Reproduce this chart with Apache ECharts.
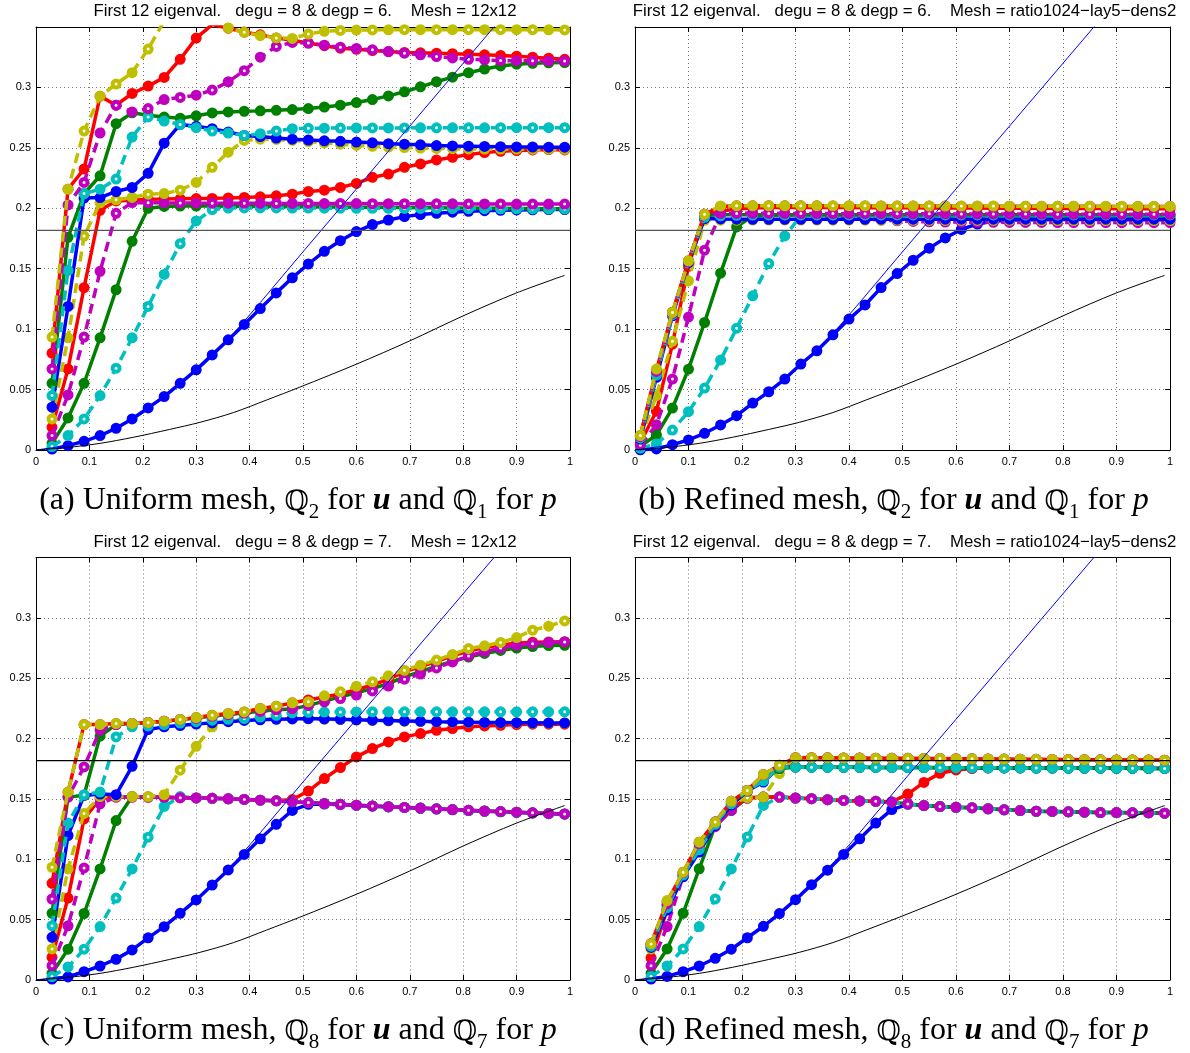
<!DOCTYPE html>
<html><head><meta charset="utf-8">
<script src="https://cdn.jsdelivr.net/npm/echarts@6/dist/echarts.min.js"></script>
<style>html,body{margin:0;padding:0;background:#fff}#c{width:1190px;height:1053px}</style>
</head><body><div id="c"></div>
<script>
// ---------- x samples ----------
const X_UNI = [0.03,0.06,0.09,0.12,0.15,0.18,0.21,0.24,0.27,0.30,0.33,0.36,0.39,0.42,0.45,0.48,0.51,0.54,0.57,0.60,0.63,0.66,0.69,0.72,0.75,0.78,0.81,0.84,0.87,0.90,0.93,0.96,0.99];
const X_REF = [0.01,0.04,0.07,0.10,0.13,0.16,0.19,0.22,0.25,0.28,0.31,0.34,0.37,0.40,0.43,0.46,0.49,0.52,0.55,0.58,0.61,0.64,0.67,0.70,0.73,0.76,0.79,0.82,0.85,0.88,0.91,0.94,0.97,1.00];

// ---------- panel (a) ----------
const A_B1 = [0.0008,0.0036,0.0072,0.0119,0.018,0.0257,0.0348,0.0442,0.0552,0.0663,0.0787,0.0912,0.1039,0.117,0.130,0.1425,0.1539,0.1644,0.1732,0.1807,0.1865,0.1903,0.1931,0.1948,0.1959,0.1968,0.1975,0.198,0.1983,0.1986,0.1988,0.1989,0.199];
const A_G1 = [0.0055,0.0265,0.0552,0.0928,0.1326,0.1727,0.2,0.2015,0.2018,0.2018,0.2018,0.2017,0.2016,0.2015,0.2014,0.2013,0.2012,0.2011,0.201,0.2009,0.2008,0.2007,0.2006,0.2005,0.2004,0.2003,0.2002,0.2001,0.2,0.1999,0.1998,0.1997,0.1996];
const A_R1 = [0.0188,0.0671,0.1343,0.1983,0.2061,0.2067,0.2075,0.2076,0.2078,0.208,0.2082,0.2085,0.209,0.2095,0.2103,0.2117,0.2139,0.215,0.2172,0.2206,0.2256,0.2283,0.2339,0.2367,0.24,0.2422,0.2444,0.2461,0.2472,0.2478,0.2483,0.2486,0.2483];
const A_C1 = [0.0028,0.0119,0.0257,0.045,0.0677,0.0928,0.1188,0.1453,0.1707,0.1895,0.199,0.2002,0.2003,0.2003,0.2003,0.2002,0.2002,0.2001,0.2001,0.2,0.2,0.2,0.1999,0.1999,0.1998,0.1998,0.1997,0.1997,0.1996,0.1996,0.1995,0.1995,0.1995];
const A_M1 = [0.0119,0.0456,0.0934,0.1478,0.1958,0.2047,0.2046,0.2045,0.2044,0.2043,0.2042,0.2042,0.2041,0.2041,0.204,0.204,0.204,0.2039,0.2039,0.2039,0.2038,0.2038,0.2038,0.2037,0.2037,0.2037,0.2036,0.2036,0.2036,0.2035,0.2035,0.2035,0.2035];
const A_Y1 = [0.0257,0.0928,0.177,0.2045,0.207,0.209,0.2117,0.2122,0.215,0.2214,0.2339,0.2464,0.2561,0.2572,0.257,0.2562,0.2552,0.2541,0.253,0.252,0.2513,0.2507,0.2502,0.2498,0.2495,0.2493,0.2491,0.249,0.249,0.249,0.2489,0.2489,0.2488];
const A_B2 = [0.0354,0.1188,0.2085,0.2089,0.2139,0.2172,0.2289,0.2539,0.2694,0.2678,0.2658,0.2631,0.2603,0.2594,0.2581,0.2572,0.2565,0.2558,0.2554,0.2548,0.2542,0.2535,0.253,0.2525,0.2519,0.2516,0.2514,0.2512,0.251,0.2508,0.2507,0.2506,0.2506];
const A_C2 = [0.045,0.1486,0.2122,0.2158,0.2242,0.2589,0.2756,0.2722,0.2694,0.2667,0.2639,0.2622,0.2603,0.2617,0.2639,0.2658,0.2662,0.2663,0.2664,0.2665,0.2665,0.2665,0.2665,0.2666,0.2666,0.2666,0.2666,0.2666,0.2667,0.2667,0.2667,0.2667,0.2667];
const A_G2 = [0.0552,0.176,0.212,0.2269,0.27,0.279,0.277,0.2755,0.2745,0.2765,0.2789,0.2797,0.2803,0.2806,0.2811,0.2817,0.2825,0.2838,0.2853,0.2875,0.29,0.293,0.2964,0.3005,0.3047,0.3085,0.3122,0.3152,0.3178,0.3192,0.32,0.3204,0.3206];
const A_R2 = [0.0801,0.2158,0.2325,0.2928,0.2853,0.295,0.3011,0.3083,0.3233,0.3408,0.352,0.349,0.3458,0.3435,0.341,0.339,0.3367,0.3345,0.3325,0.3315,0.3305,0.3297,0.329,0.3286,0.3283,0.3279,0.3275,0.327,0.3265,0.3258,0.325,0.3242,0.3233];
const A_M2 = [0.0671,0.2028,0.2214,0.2622,0.2853,0.2797,0.2825,0.29,0.2917,0.2936,0.2978,0.3047,0.3139,0.325,0.3339,0.3372,0.3367,0.335,0.3333,0.3322,0.3311,0.3297,0.3283,0.327,0.3256,0.3244,0.3233,0.3228,0.3222,0.3221,0.322,0.3219,0.3218];
const A_Y2 = [0.0934,0.2158,0.2639,0.2928,0.3028,0.3122,0.3317,0.355,0.365,0.368,0.362,0.3492,0.3456,0.3428,0.341,0.3405,0.3442,0.3464,0.3472,0.3475,0.3476,0.3477,0.3478,0.3478,0.3478,0.3478,0.3478,0.3478,0.3478,0.3478,0.3478,0.3477,0.3476];

// ---------- panel (b) ----------
const B_B1 = [0.0002,0.0009,0.0044,0.0083,0.0138,0.0207,0.0284,0.0388,0.0482,0.0587,0.0711,0.0821,0.0953,0.1083,0.12,0.1344,0.146,0.157,0.167,0.1755,0.1825,0.187,0.1893,0.1902,0.1905,0.1906,0.1907,0.1907,0.1907,0.1907,0.1906,0.1906,0.1905,0.1905];
const B_G1 = [0.003,0.0124,0.0347,0.0669,0.1055,0.1463,0.1846,0.1935,0.1942,0.1944,0.1945,0.1945,0.1945,0.1944,0.1944,0.1943,0.1943,0.1942,0.1942,0.1941,0.1941,0.194,0.194,0.1939,0.1939,0.1938,0.1938,0.1937,0.1937,0.1937,0.1936,0.1936,0.1936,0.1935];
const B_R1 = [0.006,0.032,0.0876,0.152,0.1945,0.1975,0.1995,0.2003,0.2006,0.2007,0.2007,0.2007,0.2006,0.2006,0.2005,0.2005,0.2004,0.2004,0.2003,0.2003,0.2002,0.2002,0.2001,0.2001,0.2,0.2,0.1999,0.1999,0.1998,0.1998,0.1997,0.1997,0.1996,0.1996];
const B_C1 = [0.0015,0.005,0.0165,0.0317,0.0512,0.0744,0.1008,0.1276,0.1543,0.1771,0.1937,0.1941,0.1941,0.194,0.194,0.1939,0.1939,0.1938,0.1938,0.1937,0.1937,0.1936,0.1936,0.1935,0.1935,0.1934,0.1934,0.1933,0.1933,0.1932,0.1932,0.1931,0.1931,0.193];
const B_M1 = [0.004,0.0209,0.0587,0.110,0.1653,0.1956,0.1958,0.1958,0.1957,0.1955,0.195,0.1942,0.1932,0.1922,0.1912,0.1903,0.1896,0.1891,0.1888,0.1886,0.1885,0.1884,0.1884,0.1883,0.1883,0.1883,0.1882,0.1882,0.1882,0.1882,0.1881,0.1881,0.1881,0.1881];
const B_Y1 = [0.009,0.045,0.09,0.14,0.19,0.1902,0.1902,0.1903,0.1903,0.1903,0.1903,0.1903,0.1902,0.1902,0.1902,0.1902,0.1901,0.1901,0.1901,0.1901,0.19,0.19,0.19,0.19,0.19,0.1899,0.1899,0.1899,0.1899,0.1899,0.1898,0.1898,0.1898,0.1898];
const B_B2 = [0.009,0.06,0.111,0.155,0.1915,0.1912,0.191,0.1909,0.1909,0.1909,0.1909,0.1909,0.1909,0.1909,0.1909,0.191,0.191,0.191,0.191,0.191,0.191,0.191,0.191,0.191,0.191,0.191,0.191,0.191,0.191,0.191,0.191,0.191,0.191,0.191];
const B_C2 = [0.01,0.062,0.112,0.156,0.1925,0.1938,0.1942,0.1944,0.1945,0.1945,0.1945,0.1945,0.1945,0.1945,0.1945,0.1945,0.1945,0.1945,0.1945,0.1945,0.1945,0.1945,0.1945,0.1945,0.1945,0.1945,0.1945,0.1945,0.1945,0.1945,0.1945,0.1945,0.1945,0.1945];
const B_G2 = [0.011,0.064,0.113,0.156,0.194,0.1946,0.1946,0.1946,0.1946,0.1946,0.1946,0.1946,0.1946,0.1946,0.1946,0.1946,0.1946,0.1946,0.1946,0.1946,0.1946,0.1946,0.1946,0.1946,0.1946,0.1946,0.1946,0.1946,0.1946,0.1946,0.1946,0.1946,0.1946,0.1946];
const B_R2 = [0.012,0.066,0.114,0.1565,0.195,0.2015,0.202,0.202,0.202,0.202,0.202,0.202,0.2019,0.2019,0.2019,0.2019,0.2018,0.2018,0.2018,0.2018,0.2017,0.2017,0.2017,0.2017,0.2016,0.2016,0.2016,0.2016,0.2016,0.2015,0.2015,0.2015,0.2015,0.2015];
const B_M2 = [0.011,0.065,0.113,0.156,0.195,0.1956,0.1957,0.1957,0.1957,0.1957,0.1956,0.1956,0.1956,0.1955,0.1955,0.1955,0.1955,0.1954,0.1954,0.1954,0.1953,0.1953,0.1953,0.1952,0.1952,0.1952,0.1951,0.1951,0.1951,0.195,0.195,0.195,0.195,0.195];
const B_Y2 = [0.012,0.067,0.1138,0.1565,0.195,0.2019,0.202,0.2021,0.2021,0.2021,0.2021,0.202,0.202,0.202,0.202,0.2019,0.2019,0.2019,0.2019,0.2018,0.2018,0.2018,0.2018,0.2017,0.2017,0.2017,0.2017,0.2016,0.2016,0.2016,0.2016,0.2015,0.2015,0.2015];

// ---------- panel (c) ----------
const C_B1 = [0.0008,0.0025,0.0069,0.0116,0.0172,0.0249,0.0349,0.0442,0.0552,0.0663,0.0787,0.0912,0.104,0.117,0.129,0.1405,0.1455,0.1458,0.1452,0.1446,0.144,0.1434,0.1428,0.1422,0.1416,0.141,0.1404,0.1398,0.1393,0.1388,0.1383,0.1378,0.1374];
const C_G1 = [0.0055,0.0255,0.0551,0.092,0.1321,0.152,0.1515,0.1513,0.151,0.1508,0.1505,0.1501,0.1496,0.149,0.1484,0.1477,0.147,0.1462,0.1455,0.1448,0.1442,0.1436,0.143,0.1424,0.1418,0.1412,0.1406,0.14,0.1395,0.139,0.1385,0.138,0.1376];
const C_R1 = [0.0188,0.0679,0.1335,0.1505,0.1515,0.1515,0.1515,0.1513,0.151,0.1508,0.1505,0.1501,0.1496,0.149,0.1484,0.1495,0.1565,0.1669,0.176,0.1848,0.1917,0.1972,0.2014,0.2041,0.2069,0.2083,0.2097,0.2105,0.211,0.2116,0.2119,0.2119,0.2119];
const C_C1 = [0.0028,0.0108,0.0255,0.0443,0.0679,0.092,0.1183,0.1438,0.152,0.1508,0.1505,0.1501,0.1496,0.149,0.1484,0.1477,0.147,0.1462,0.1455,0.1448,0.1442,0.1436,0.143,0.1424,0.1418,0.1412,0.1406,0.14,0.1395,0.139,0.1385,0.138,0.1376];
const C_M1 = [0.0119,0.0449,0.0928,0.146,0.1515,0.1515,0.1515,0.1513,0.151,0.1508,0.1505,0.1501,0.1496,0.149,0.1484,0.1477,0.147,0.1462,0.1455,0.1448,0.1442,0.1436,0.143,0.1424,0.1418,0.1412,0.1406,0.14,0.1395,0.139,0.1385,0.138,0.1376];
const C_Y1 = [0.0257,0.092,0.138,0.152,0.1522,0.152,0.152,0.1535,0.1738,0.1936,0.2097,0.2152,0.2158,0.2163,0.2165,0.2165,0.2163,0.216,0.2157,0.2153,0.2149,0.2146,0.2143,0.214,0.2138,0.2136,0.2134,0.2132,0.2131,0.213,0.2129,0.2128,0.2128];
const C_B2 = [0.0354,0.1197,0.1529,0.154,0.1535,0.177,0.2075,0.2097,0.2108,0.212,0.213,0.214,0.215,0.2155,0.216,0.2163,0.2166,0.2163,0.216,0.2156,0.2152,0.2149,0.2146,0.2143,0.214,0.2138,0.2136,0.2134,0.2133,0.2132,0.2131,0.213,0.213];
const C_C2 = [0.045,0.13,0.1535,0.1557,0.2014,0.2097,0.2105,0.2116,0.2128,0.214,0.2152,0.216,0.2166,0.2178,0.2193,0.2213,0.2218,0.222,0.2221,0.2221,0.2222,0.2222,0.2222,0.2222,0.2222,0.2222,0.2222,0.2222,0.2222,0.2222,0.2222,0.2222,0.2222];
const C_G2 = [0.0552,0.1515,0.153,0.202,0.2116,0.2124,0.2133,0.2144,0.2157,0.217,0.2187,0.22,0.2212,0.2226,0.2238,0.2244,0.2275,0.231,0.2345,0.238,0.2415,0.2455,0.2511,0.2555,0.26,0.264,0.2675,0.2705,0.273,0.275,0.2762,0.277,0.2773];
const C_R2 = [0.0801,0.1557,0.2116,0.2116,0.2124,0.2124,0.2133,0.2144,0.2157,0.2174,0.2193,0.2207,0.2221,0.2249,0.2268,0.2296,0.232,0.2345,0.237,0.2405,0.2445,0.249,0.2555,0.2595,0.264,0.2685,0.2725,0.2755,0.2775,0.279,0.2798,0.2801,0.2803];
const C_M2 = [0.0671,0.1515,0.1765,0.207,0.2116,0.2124,0.2133,0.2144,0.2155,0.2168,0.2185,0.2198,0.221,0.2225,0.2238,0.2249,0.2275,0.2305,0.2331,0.236,0.2395,0.2435,0.2492,0.2535,0.2585,0.2635,0.2685,0.272,0.275,0.2772,0.2786,0.2795,0.28];
const C_Y2 = [0.0934,0.1557,0.2116,0.2116,0.2124,0.2124,0.2133,0.2144,0.2157,0.2174,0.2193,0.2207,0.2221,0.2249,0.2268,0.2296,0.2304,0.2354,0.2387,0.2434,0.247,0.252,0.2566,0.2608,0.265,0.2696,0.2746,0.2768,0.2796,0.2837,0.2898,0.2931,0.2975];

// ---------- panel (d) ----------
const D_B1 = [0.0008,0.003,0.0069,0.0116,0.018,0.0255,0.035,0.0445,0.055,0.0665,0.079,0.091,0.104,0.117,0.13,0.1412,0.1455,0.1445,0.1437,0.1431,0.1426,0.1418,0.141,0.1404,0.1398,0.1396,0.1393,0.139,0.1387,0.1387,0.1385,0.1385,0.1382];
const D_G1 = [0.0055,0.0257,0.0553,0.0921,0.128,0.1405,0.1507,0.1515,0.1515,0.1507,0.1502,0.1494,0.1488,0.1483,0.148,0.1475,0.1459,0.1445,0.1437,0.1431,0.1426,0.1418,0.141,0.1404,0.1398,0.1396,0.1393,0.139,0.1387,0.1387,0.1385,0.1385,0.1382];
const D_R1 = [0.0183,0.058,0.087,0.107,0.129,0.142,0.1507,0.1515,0.1515,0.1507,0.1502,0.1494,0.1488,0.1483,0.148,0.1475,0.154,0.1637,0.1712,0.174,0.1752,0.1757,0.1758,0.1758,0.1758,0.1757,0.1757,0.1756,0.1756,0.1755,0.1755,0.1754,0.1754];
const D_C1 = [0.0028,0.0116,0.0257,0.0443,0.0672,0.092,0.1184,0.1446,0.1515,0.1507,0.1502,0.1494,0.1488,0.1483,0.148,0.1475,0.1459,0.1445,0.1437,0.1431,0.1426,0.1418,0.141,0.1404,0.1398,0.1396,0.1393,0.139,0.1387,0.1387,0.1385,0.1385,0.1382];
const D_M1 = [0.0119,0.0443,0.086,0.108,0.127,0.1405,0.1507,0.1515,0.1515,0.1507,0.1502,0.1494,0.1488,0.1483,0.148,0.1475,0.1459,0.1445,0.1437,0.1431,0.1426,0.1418,0.141,0.1404,0.1398,0.1396,0.1393,0.139,0.1387,0.1387,0.1385,0.1385,0.1382];
const D_Y1 = [0.0257,0.06,0.088,0.112,0.13,0.146,0.151,0.1515,0.171,0.1835,0.1838,0.1838,0.1837,0.1836,0.1835,0.1834,0.1833,0.1832,0.1831,0.183,0.1829,0.1828,0.1827,0.1826,0.1825,0.1825,0.1824,0.1824,0.1823,0.1823,0.1822,0.1822,0.1821];
const D_B2 = [0.027,0.058,0.0855,0.106,0.128,0.145,0.1565,0.164,0.1764,0.1764,0.1763,0.1763,0.1762,0.1762,0.1761,0.1761,0.176,0.176,0.1759,0.1759,0.1758,0.1758,0.1757,0.1757,0.1756,0.1756,0.1755,0.1755,0.1755,0.1754,0.1754,0.1753,0.1753];
const D_C2 = [0.028,0.06,0.087,0.108,0.129,0.146,0.157,0.165,0.1764,0.1764,0.1763,0.1763,0.1762,0.1762,0.1761,0.1761,0.176,0.176,0.1759,0.1759,0.1758,0.1758,0.1757,0.1757,0.1756,0.1756,0.1755,0.1755,0.1755,0.1754,0.1754,0.1753,0.1753];
const D_G2 = [0.029,0.062,0.088,0.11,0.13,0.147,0.157,0.166,0.175,0.1764,0.1763,0.1763,0.1762,0.1762,0.1761,0.1761,0.176,0.176,0.1759,0.1759,0.1758,0.1758,0.1757,0.1757,0.1756,0.1756,0.1755,0.1755,0.1755,0.1754,0.1754,0.1753,0.1753];
const D_R2 = [0.03,0.065,0.0893,0.1142,0.1308,0.148,0.157,0.1703,0.1778,0.1842,0.1842,0.1841,0.184,0.1839,0.1838,0.1837,0.1836,0.1835,0.1834,0.1833,0.1832,0.1831,0.183,0.1829,0.1828,0.1827,0.1826,0.1825,0.1824,0.1823,0.1822,0.1822,0.1821];
const D_M2 = [0.03,0.063,0.089,0.113,0.131,0.148,0.157,0.17,0.1778,0.1842,0.1842,0.1841,0.184,0.1839,0.1838,0.1837,0.1836,0.1835,0.1834,0.1833,0.1832,0.1831,0.183,0.1829,0.1828,0.1827,0.1826,0.1825,0.1824,0.1823,0.1822,0.1822,0.1821];
const D_Y2 = [0.0299,0.0658,0.0893,0.1142,0.1308,0.148,0.157,0.1703,0.1778,0.1842,0.1842,0.1841,0.184,0.1839,0.1838,0.1837,0.1836,0.1835,0.1834,0.1833,0.1832,0.1831,0.183,0.1829,0.1828,0.1827,0.1826,0.1825,0.1824,0.1823,0.1822,0.1822,0.1821];

// ---------- reference curves ----------
const REF_LEVEL = 0.1817;
const REF_LIN_X = [0,0.06,0.12,0.18,0.24,0.30,0.36,0.42,0.50,0.60,0.70,0.80,0.90];
const REF_LIN_Y = [0,0.0036,0.0119,0.0257,0.0442,0.0663,0.0912,0.122,0.164,0.216,0.268,0.32,0.372];
const REF_CUR_X = [0,0.057,0.12,0.182,0.25,0.307,0.37,0.432,0.494,0.6,0.7,0.8,0.9,0.99];
const REF_CUR_Y = [0,0.002,0.0055,0.0105,0.017,0.0229,0.031,0.0414,0.052,0.071,0.0903,0.111,0.130,0.1445];

const COLORS = {B:'#0000ff', G:'#008000', R:'#ff0000', C:'#00bfbf', M:'#bf00bf', Y:'#bfbf00'};
const DASHED = {B:false, G:false, R:false, C:true, M:true, Y:true};
const ORDER = ['B1','G1','R1','C1','M1','Y1','B2','G2','R2','C2','M2','Y2'];

const PANELS = [
  {x:X_UNI, s:{B1:A_B1,G1:A_G1,R1:A_R1,C1:A_C1,M1:A_M1,Y1:A_Y1,B2:A_B2,G2:A_G2,R2:A_R2,C2:A_C2,M2:A_M2,Y2:A_Y2},
   g:{left:36,top:27,width:534,height:423},
   title:'First 12 eigenval.   degu = 8 & degp = 6.    Mesh = 12x12',
   cap:['(a) Uniform mesh, ','2','1'], lvlColor:'#555', capDx:-10},
  {x:X_REF, s:{B1:B_B1,G1:B_G1,R1:B_R1,C1:B_C1,M1:B_M1,Y1:B_Y1,B2:B_B2,G2:B_G2,R2:B_R2,C2:B_C2,M2:B_M2,Y2:B_Y2},
   g:{left:635,top:27,width:535,height:423},
   title:'First 12 eigenval.   degu = 8 & degp = 6.    Mesh = ratio1024\u2212lay5\u2212dens2',
   cap:['(b) Refined mesh, ','2','1'], lvlColor:'#555', capDx:-14},
  {x:X_UNI, s:{B1:C_B1,G1:C_G1,R1:C_R1,C1:C_C1,M1:C_M1,Y1:C_Y1,B2:C_B2,G2:C_G2,R2:C_R2,C2:C_C2,M2:C_M2,Y2:C_Y2},
   g:{left:36,top:557.5,width:534,height:422.5},
   title:'First 12 eigenval.   degu = 8 & degp = 7.    Mesh = 12x12',
   cap:['(c) Uniform mesh, ','8','7'], lvlColor:'#000', capDx:-10},
  {x:X_UNI, s:{B1:D_B1,G1:D_G1,R1:D_R1,C1:D_C1,M1:D_M1,Y1:D_Y1,B2:D_B2,G2:D_G2,R2:D_R2,C2:D_C2,M2:D_M2,Y2:D_Y2},
   g:{left:635,top:557.5,width:535,height:422.5},
   title:'First 12 eigenval.   degu = 8 & degp = 7.    Mesh = ratio1024\u2212lay5\u2212dens2',
   cap:['(d) Refined mesh, ','8','7'], lvlColor:'#000', capDx:-14}
];

const zip = (xs, ys) => xs.map((x, i) => [x, ys[i]]);
const fmt = v => String(Number(v.toFixed(2)));
const FONT = 'Liberation Sans, Arial, sans-serif';
const SERIF = 'Liberation Serif, Times New Roman, serif';

const grids = [], xAxes = [], yAxes = [], series = [], titles = [];
PANELS.forEach((p, pi) => {
  grids.push(Object.assign({containLabel:false, outerBoundsMode:'none', show:false}, p.g));
  const common = {gridIndex:pi, type:'value', min:0, axisLine:{show:true, onZero:false, lineStyle:{color:'#000', width:1}},
    axisTick:{show:true, inside:true, length:5, lineStyle:{color:'#000'}}};
  xAxes.push(Object.assign({}, common, {position:'bottom', max:1, interval:0.1,
    axisLabel:{fontFamily:FONT, fontSize:11, color:'#000', margin:6, formatter:fmt},
    splitLine:{show:true, lineStyle:{color:'#777', width:1, type:[1,3]}}}));
  xAxes.push(Object.assign({}, common, {position:'top', max:1, interval:0.1, axisLabel:{show:false}, splitLine:{show:false}}));
  yAxes.push(Object.assign({}, common, {position:'left', max:0.35, interval:0.05,
    axisLabel:{fontFamily:FONT, fontSize:11, color:'#000', margin:5, showMaxLabel:false, formatter:fmt},
    splitLine:{show:true, lineStyle:{color:'#777', width:1, type:[1,3]}}}));
  yAxes.push(Object.assign({}, common, {position:'right', max:0.35, interval:0.05, axisLabel:{show:false}, splitLine:{show:false}}));
  const xi = pi * 2, yi = pi * 2;
  ORDER.forEach((key, si) => {
    const col = COLORS[key[0]];
    const dashed = DASHED[key[0]];
    const ys = p.s[key];
    const data = p.x.map((x, i) => {
      const item = {value:[x, ys[i]]};
      if (dashed && i % 2 === 0) item.itemStyle = {color:'#fff'};
      return item;
    });
    series.push({type:'line', name:key, xAxisIndex:xi, yAxisIndex:yi, data, clip:true,
      symbol:'circle', symbolSize:7, showAllSymbol:true,
      itemStyle:{color:col, borderColor:col, borderWidth:4},
      lineStyle:{color:col, width:3.5, type: dashed ? [10,6] : 'solid'},
      z:2 + si * 0.01, silent:true});
  });
  series.push({type:'line', xAxisIndex:xi, yAxisIndex:yi, data:zip(REF_LIN_X, REF_LIN_Y), showSymbol:false, clip:true,
    lineStyle:{color:'#0000ff', width:1}, z:5, silent:true});
  series.push({type:'line', xAxisIndex:xi, yAxisIndex:yi, data:zip(REF_CUR_X, REF_CUR_Y), showSymbol:false, smooth:0.3, clip:true,
    lineStyle:{color:'#000', width:1}, z:5, silent:true});
  series.push({type:'line', xAxisIndex:xi, yAxisIndex:yi, data:[[0, REF_LEVEL],[1, REF_LEVEL]], showSymbol:false, clip:true,
    lineStyle:{color:p.lvlColor, width:1.2}, z:5, silent:true});
  const cx = p.g.left + p.g.width / 2;
  titles.push({text:p.title, left:cx - 3, top:p.g.top - 29, textAlign:'center',
    textStyle:{fontFamily:FONT, fontSize:16.8, fontWeight:'normal', color:'#000'}});
  const c = p.cap;
  const base = {color:'#000', lineHeight:36, verticalAlign:'bottom', fontWeight:'normal'};
  titles.push({text:'{n|' + c[0] + '}{q|\u211A}{s|' + c[1] + '}{n| for }{b|u}{n| and }{q|\u211A}{s|' + c[2] + '}{n| for }{i|p}',
    left:cx + p.capDx, top:p.g.top + p.g.height + 26, textAlign:'center',
    textStyle:{fontWeight:'normal', rich:{
      n:Object.assign({}, base, {fontFamily:SERIF, fontSize:32}),
      q:Object.assign({}, base, {fontFamily:'DejaVu Serif, serif', fontSize:28}),
      s:Object.assign({}, base, {fontFamily:SERIF, fontSize:21, padding:[0,0,-6,0]}),
      b:Object.assign({}, base, {fontFamily:SERIF, fontSize:32, fontWeight:'bold', fontStyle:'italic'}),
      i:Object.assign({}, base, {fontFamily:SERIF, fontSize:32, fontStyle:'italic'})
    }}});
});

const chart = echarts.init(document.getElementById('c'), null, {renderer:'canvas'});
chart.setOption({animation:false, backgroundColor:'#fff', title:titles, grid:grids, xAxis:xAxes, yAxis:yAxes, series});
</script></body></html>
